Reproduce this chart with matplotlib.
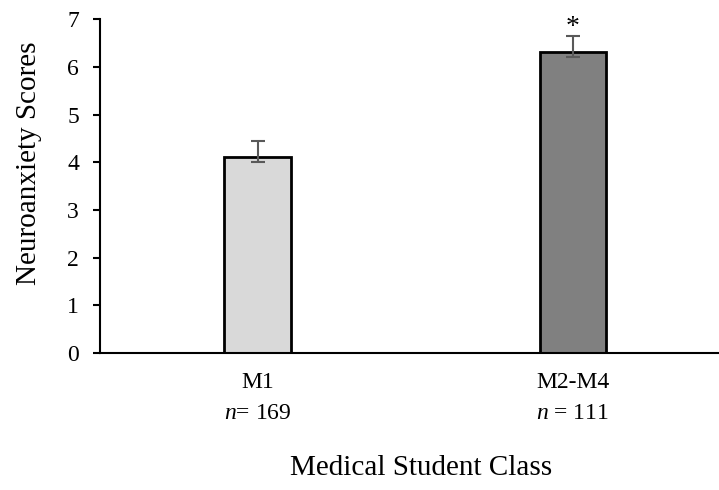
import matplotlib.pyplot as plt

plt.rcParams['font.family'] = ['Liberation Serif', 'DejaVu Serif']
plt.rcParams['mathtext.fontset'] = 'custom'
plt.rcParams['mathtext.rm'] = 'Liberation Serif'
plt.rcParams['mathtext.it'] = 'Liberation Serif:italic'

classes = ['M1', 'M2-M4']
n_labels = ['$n$= 169', '$n$ = 111']
scores = [4.11, 6.31]
err_low = [0.10, 0.11]
err_high = [0.33, 0.34]
colors = ['#D9D9D9', '#808080']

fig = plt.figure(figsize=(7.19, 4.90), dpi=100)
ax = fig.add_axes([0.139, 0.2796, 0.861, 0.6814])

x = [0, 1]
ax.bar(x, scores, width=0.21, color=colors, edgecolor='black', linewidth=2, zorder=2)
ax.errorbar(x, scores, yerr=[err_low, err_high], fmt='none', ecolor='#595959',
            elinewidth=1.5, capsize=5, capthick=1.5, zorder=3)
ax.text(1, 6.56, '*', ha='center', va='bottom', fontsize=20)

ax.set_xlim(-0.5, 1.464)
ax.set_ylim(0, 7)
ax.set_yticks(range(8))
ax.set_xticks(x)
ax.set_xticklabels([f'{c}\n{n}' for c, n in zip(classes, n_labels)], fontsize=17, linespacing=1.62)
ax.tick_params(axis='x', length=0, pad=14)
ax.tick_params(axis='y', labelsize=17, direction='out', length=5, width=1.5, pad=10)

for s in ['top', 'right']:
    ax.spines[s].set_visible(False)
for s in ['left', 'bottom']:
    ax.spines[s].set_linewidth(1.5)

ax.set_ylabel('Neuroanxiety Scores', fontsize=21)
ax.yaxis.set_label_coords(-0.115, 0.569)
ax.yaxis.label.set_va('center')
ax.set_xlabel('Medical Student Class', fontsize=21, labelpad=22)
ax.xaxis.label.set_x(0.519)

plt.savefig('out.png', dpi=100)
